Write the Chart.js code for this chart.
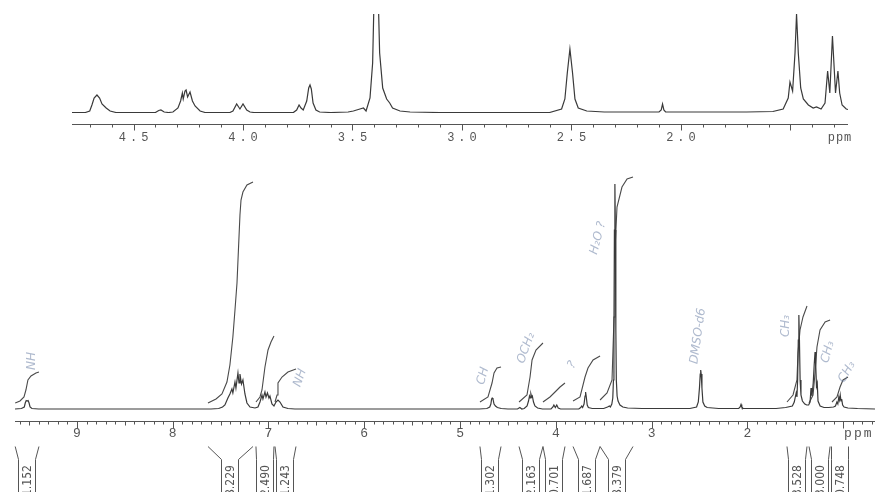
<!DOCTYPE html>
<html><head><meta charset="utf-8">
<script src="https://cdn.jsdelivr.net/npm/chart.js@4.4.1/dist/chart.umd.min.js"></script>
<style>
html,body{margin:0;padding:0;background:#fff;overflow:hidden}
#wrap{position:relative;width:875px;height:492px;background:#fff}
canvas{position:absolute;left:0;top:0}
</style></head>
<body><div id="wrap"><canvas id="main" width="875" height="492"></canvas><canvas id="inset" width="875" height="492"></canvas></div>
<script>
// ---- data (ppm, intensity) ----
const mainSpectrum = [
[9.647,1],[9.58,1.5],[9.55,3],[9.54,7],[9.53,9.5],[9.52,9],[9.51,9.5],[9.5,7],[9.49,3],[9.47,1.5],[9.40,1],
[7.60,1],[7.52,1.5],[7.48,3],[7.455,5],[7.424,12],[7.403,16],[7.382,21],[7.372,17],[7.350,28],[7.340,22],[7.319,37],[7.308,27],[7.298,36],[7.282,26],[7.267,30],[7.246,16],[7.225,7],[7.193,3],[7.141,2],
[7.110,3],[7.089,8],[7.068,15],[7.058,11],[7.037,18],[7.026,13],[7.011,17],[6.995,12],[6.985,14],[6.964,6],[6.943,4],[6.922,8],[6.901,10],[6.880,8],[6.849,3],[6.797,1.5],[6.724,1],
[4.80,1],[4.72,1.5],[4.69,3],[4.678,6],[4.670,11],[4.664,12],[4.656,11],[4.645,6],[4.63,4],[4.61,2.5],[4.57,1.5],[4.50,1],
[4.40,1],[4.375,2.5],[4.355,1],
[4.33,1.5],[4.30,4],[4.285,9],[4.275,14],[4.268,12],[4.26,16],[4.252,13],[4.245,14],[4.233,8],[4.218,4],[4.19,2],[4.14,1],
[4.05,1],[4.03,3],[4.02,5],[4.005,2.5],[3.99,5],[3.975,2],[3.95,1],
[3.76,1],[3.74,2.5],[3.73,4],[3.72,2.5],[3.705,6],[3.695,14],[3.689,18],[3.683,14],[3.672,5],[3.66,2.5],[3.62,1.5],
[3.50,1.5],[3.46,3],[3.44,4],[3.43,3],[3.415,6],[3.405,12],[3.398,30],[3.393,80],[3.388,180],[3.383,226],[3.378,180],[3.373,80],[3.368,30],[3.36,14],[3.35,9],[3.33,5],[3.30,3],[3.25,2],[3.10,1.5],
[2.60,1.5],[2.53,3],[2.512,8],[2.500,22],[2.492,36],[2.487,40],[2.482,36],[2.474,22],[2.464,8],[2.445,4],[2.42,2.5],[2.30,1.5],
[2.09,1.5],[2.075,3],[2.066,5.5],[2.058,3],[2.045,1.5],
[1.70,1.5],[1.60,2.5],[1.53,4],[1.51,8],[1.497,14],[1.490,17],[1.482,13],[1.475,30],[1.468,70],[1.462,95],[1.456,70],[1.449,30],[1.44,15],[1.425,9],[1.40,6],[1.38,5],[1.36,5],[1.345,8],[1.335,22],[1.325,14],[1.312,27],[1.302,45],[1.293,58],[1.286,45],[1.278,24],[1.270,27],[1.262,9],[1.24,4],[1.20,2.5],[1.15,2.5],[1.10,3],[1.08,4],[1.065,8],[1.055,6],[1.045,13],[1.037,10],[1.030,15],[1.022,9],[1.015,11],[1.005,5],[0.99,3],[0.95,2],[0.85,1.5],[0.667,1]
];
const insetSpectrum = [
[4.781,0.5],[4.72,0.5],[4.70,2],[4.69,8],[4.68,15],[4.667,18],[4.655,15],[4.644,9],[4.625,5],[4.607,2],[4.58,0.5],
[4.40,0.5],[4.385,2.5],[4.375,3],[4.36,1],[4.34,0.5],
[4.32,1],[4.297,5],[4.285,12],[4.277,20],[4.273,14],[4.265,22],[4.26,23],[4.253,16],[4.242,21],[4.231,12],[4.219,7],[4.196,2],[4.173,0.5],
[4.06,0.5],[4.046,2],[4.029,9],[4.014,4],[4.0,9],[3.983,3],[3.968,1],[3.95,0.5],
[3.77,0.5],[3.755,3],[3.744,8],[3.735,5],[3.725,3],[3.709,12],[3.700,25],[3.694,28],[3.688,24],[3.680,10],[3.667,3],[3.65,1],[3.60,0.5],
[3.52,1],[3.496,2],[3.466,4],[3.45,5],[3.438,2],[3.42,15],[3.408,50],[3.400,130],[3.392,170],[3.384,130],[3.376,60],[3.362,25],[3.344,14],[3.33,10],[3.317,5],[3.283,2],[3.237,1],[3.10,0.5],
[2.60,0.5],[2.545,4],[2.53,14],[2.519,40],[2.507,64],[2.495,40],[2.484,14],[2.469,5],[2.43,2],[2.35,1],
[2.10,1],[2.09,3],[2.084,9],[2.078,3],[2.07,1],
[1.70,1],[1.58,1.5],[1.533,4],[1.51,15],[1.502,31],[1.49,22],[1.479,60],[1.472,99],[1.464,60],[1.453,25],[1.441,14],[1.418,8],[1.396,5],[1.381,6],[1.36,4],[1.342,10],[1.33,42],[1.32,20],[1.308,77],[1.294,20],[1.283,42],[1.275,20],[1.264,8],[1.245,4],[1.237,3.5]
];
// integral curves (ppm, height)
const integralNH   = [[9.645,7],[9.595,9],[9.553,13],[9.533,20],[9.512,30],[9.480,34],[9.428,37],[9.397,38]];
const integralAr   = [[7.632,7],[7.548,11],[7.486,16],[7.434,28],[7.403,45],[7.372,73],[7.350,100],[7.329,127],[7.314,160],[7.298,195],[7.287,210],[7.267,218],[7.225,225],[7.162,228]];
const integral705  = [[7.131,8],[7.089,13],[7.068,20],[7.037,43],[7.005,60],[6.974,68],[6.943,74]];
const integral688  = [[6.932,8],[6.911,15],[6.901,27],[6.859,33],[6.797,38],[6.713,41]];
const integralCH   = [[4.792,8],[4.708,13],[4.666,27],[4.645,37],[4.614,42],[4.572,43]];
const integralOCH2 = [[4.384,8],[4.301,15],[4.269,33],[4.248,50],[4.207,60],[4.134,67]];
const integral400  = [[4.134,8],[4.061,13],[4.008,18],[3.956,23],[3.904,27]];
const integral369  = [[3.820,9],[3.747,13],[3.695,33],[3.664,42],[3.611,50],[3.538,54]];
const integralH2O  = [[3.538,10],[3.465,17],[3.413,30],[3.392,93],[3.382,160],[3.361,203],[3.309,223],[3.256,231],[3.194,233]];
const integralCH3a = [[1.586,8],[1.523,15],[1.482,30],[1.471,57],[1.450,80],[1.419,93],[1.377,104]];
const integralCH3b = [[1.356,7],[1.314,15],[1.293,37],[1.273,63],[1.241,80],[1.188,88],[1.136,90]];
const integralCH3c = [[1.116,8],[1.064,13],[1.032,23],[1.001,30],[0.949,33]];
const integralValues = ['1.152','8.229','2.490','1.243','1.302','2.163','0.701','1.687','8.379','3.528','3.000','0.748'];
const mainTicks  = [9,8,7,6,5,4,3,2];
const insetTicks = [4.5,4.0,3.5,3.0,2.5,2.0];
const notes = [
  {text:'NH',    ppm:9.47, h:49,  rot:-90},
  {text:'NH',    ppm:6.67, h:32,  rot:-70},
  {text:'CH',    ppm:4.76, h:34,  rot:-75},
  {text:'OCH₂',  ppm:4.31, h:62,  rot:-70},
  {text:'?',     ppm:3.83, h:45,  rot:-60},
  {text:'H₂O ?', ppm:3.56, h:172, rot:-75},
  {text:'DMSO-d6', ppm:2.515, h:74, rot:-82},
  {text:'CH₃',   ppm:1.60, h:84,  rot:-90},
  {text:'CH₃',   ppm:1.16, h:58,  rot:-75},
  {text:'CH₃',   ppm:0.96, h:38,  rot:-60}
];
// ---- drawing ----
const integralCurves = [integralNH,integralAr,integral705,integral688,integralCH,integralOCH2,integral400,integral369,integralH2O,integralCH3a,integralCH3b,integralCH3c];
const toXY = a => a.map(p => ({x:p[0], y:p[1]}));
const lineDs = (arr, color, w) => ({data:toXY(arr), showLine:true, borderColor:color, borderWidth:w, pointRadius:0, tension:0, fill:false});

const mainAxisPlugin = {
  id:'mainAxis',
  afterDatasetsDraw(chart){
    const {ctx, chartArea:ca, scales:{x, y}} = chart;
    const axisY = ca.bottom + 11.5;
    ctx.save();
    ctx.strokeStyle = '#555'; ctx.lineWidth = 1;
    ctx.beginPath();
    ctx.moveTo(ca.left, axisY); ctx.lineTo(ca.right, axisY);
    for (let i = Math.ceil(x.min*10); i <= Math.floor(x.max*10); i++) {
      const px = Math.round(x.getPixelForValue(i/10)) + 0.5;
      const len = (i % 10 === 0) ? 7 : (i % 5 === 0 ? 4 : 3);
      ctx.moveTo(px, axisY); ctx.lineTo(px, axisY + len);
    }
    ctx.stroke();
    ctx.fillStyle = '#555';
    ctx.font = '13px "Liberation Mono", monospace';
    ctx.textAlign = 'center'; ctx.textBaseline = 'middle';
    mainTicks.forEach(t => ctx.fillText(String(t), x.getPixelForValue(t), axisY + 12));
    ctx.textAlign = 'left';
    ctx.letterSpacing = '2px';
    ctx.fillText('ppm', x.getPixelForValue(1) + 1, axisY + 12);
    ctx.letterSpacing = '0px';
    // integration brackets and values
    const topY = axisY + 25, boxY = axisY + 38, bottomY = 492;
    integralCurves.forEach((c, i) => {
      const xs = x.getPixelForValue(c[0][0]);
      const xe = x.getPixelForValue(c[c.length-1][0]);
      const cx = Math.round((xs + xe) / 2);
      const l = cx - 8.5, r = cx + 8.5;
      ctx.beginPath();
      ctx.moveTo(Math.min(xs, l), topY); ctx.lineTo(l, boxY); ctx.lineTo(l, bottomY);
      ctx.moveTo(Math.max(xe, r), topY); ctx.lineTo(r, boxY); ctx.lineTo(r, bottomY);
      ctx.stroke();
      ctx.save();
      ctx.translate(cx + 0.5, 496);
      ctx.rotate(-Math.PI/2);
      ctx.font = '12px "DejaVu Sans Condensed", "Liberation Sans Narrow", "DejaVu Sans", sans-serif';
      ctx.textAlign = 'left'; ctx.textBaseline = 'middle';
      ctx.fillStyle = '#555';
      ctx.fillText(integralValues[i], 0, 0);
      ctx.restore();
    });
    // handwritten notes
    ctx.fillStyle = 'rgba(110,130,165,0.55)';
    ctx.font = 'italic 12px "DejaVu Sans", sans-serif';
    notes.forEach(n => {
      ctx.save();
      ctx.translate(x.getPixelForValue(n.ppm), y.getPixelForValue(n.h));
      ctx.rotate(n.rot * Math.PI / 180);
      ctx.textAlign = 'center'; ctx.textBaseline = 'middle';
      ctx.fillText(n.text, 0, 0);
      ctx.restore();
    });
    ctx.restore();
  }
};

const insetAxisPlugin = {
  id:'insetAxis',
  afterDatasetsDraw(chart){
    const {ctx, chartArea:ca, scales:{x}} = chart;
    const axisY = ca.bottom + 11.5;
    ctx.save();
    ctx.strokeStyle = '#555'; ctx.lineWidth = 1;
    ctx.beginPath();
    ctx.moveTo(ca.left, axisY); ctx.lineTo(ca.right, axisY);
    for (let i = Math.ceil(x.min*10); i <= Math.floor(x.max*10); i++) {
      const px = Math.round(x.getPixelForValue(i/10)) + 0.5;
      const len = (i % 5 === 0) ? 6 : 3;
      ctx.moveTo(px, axisY); ctx.lineTo(px, axisY + len);
    }
    ctx.stroke();
    ctx.fillStyle = '#555';
    ctx.font = '12px "Liberation Mono", monospace';
    ctx.textBaseline = 'middle';
    ctx.textAlign = 'center';
    ctx.letterSpacing = '4px';
    insetTicks.forEach(t => ctx.fillText(t.toFixed(1), x.getPixelForValue(t) + 2, axisY + 13));
    ctx.letterSpacing = '1px';
    ctx.fillText('ppm', 840, axisY + 13);
    ctx.restore();
  }
};

new Chart(document.getElementById('main'), {
  type:'scatter',
  data:{datasets:[lineDs(mainSpectrum, '#3a3a3a', 1.2), ...integralCurves.map(c => lineDs(c, '#4a4a4a', 1.1))]},
  options:{
    responsive:false, animation:false, events:[],
    layout:{padding:{left:15, right:0, top:110, bottom:82}},
    scales:{
      x:{type:'linear', reverse:true, min:0.667, max:9.647, display:false},
      y:{type:'linear', min:0, max:300, display:false}
    },
    plugins:{legend:{display:false}, tooltip:{enabled:false}}
  },
  plugins:[mainAxisPlugin]
});

new Chart(document.getElementById('inset'), {
  type:'scatter',
  data:{datasets:[lineDs(insetSpectrum, '#3a3a3a', 1.2)]},
  options:{
    responsive:false, animation:false, events:[],
    layout:{padding:{left:72, right:27, top:14, bottom:379}},
    scales:{
      x:{type:'linear', reverse:true, min:1.237, max:4.781, display:false},
      y:{type:'linear', min:0, max:99, display:false}
    },
    plugins:{legend:{display:false}, tooltip:{enabled:false}}
  },
  plugins:[insetAxisPlugin]
});
</script>
</body></html>
